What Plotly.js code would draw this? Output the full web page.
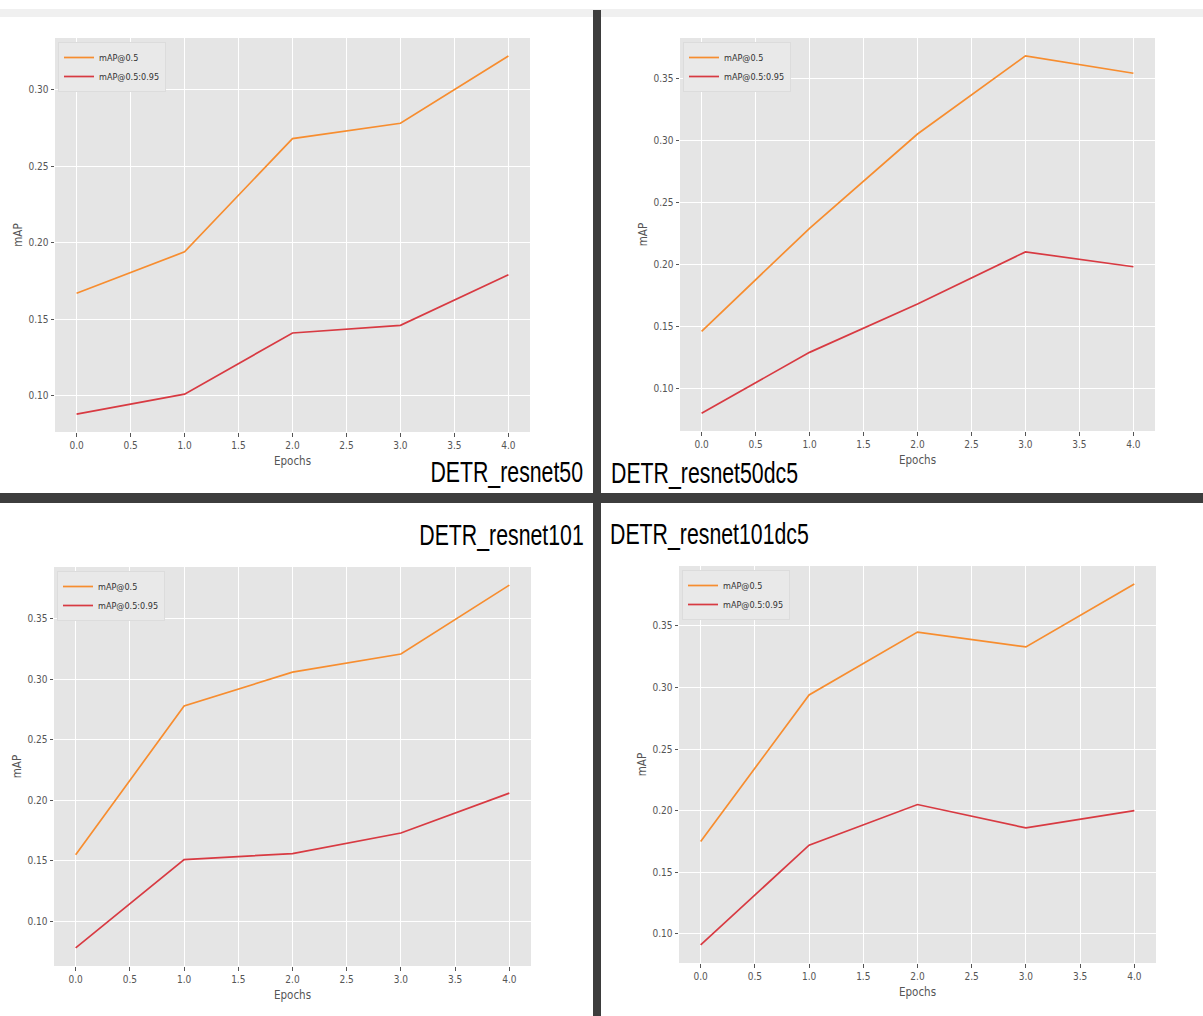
<!DOCTYPE html>
<html>
<head>
<meta charset="utf-8">
<script src="https://cdn.plot.ly/plotly-3.0.1.min.js"></script>
<style>
  html, body { margin: 0; padding: 0; background: #ffffff; }
  #chart { width: 1203px; height: 1016px; }
</style>
</head>
<body>
<div id="chart"></div>
<script>
// ---- data ----
const epochs = [0, 1, 2, 3, 4];
const seriesNames = ["mAP@0.5", "mAP@0.5:0.95"];
const panelTitles = ["DETR_resnet50", "DETR_resnet50dc5", "DETR_resnet101", "DETR_resnet101dc5"];

const resnet50_map50      = [0.167, 0.194, 0.268, 0.278, 0.322];
const resnet50_map5095    = [0.088, 0.101, 0.141, 0.146, 0.179];
const resnet50dc5_map50   = [0.146, 0.229, 0.305, 0.368, 0.354];
const resnet50dc5_map5095 = [0.080, 0.129, 0.168, 0.210, 0.198];
const resnet101_map50     = [0.155, 0.278, 0.306, 0.321, 0.378];
const resnet101_map5095   = [0.078, 0.151, 0.156, 0.173, 0.206];
const resnet101dc5_map50  = [0.175, 0.294, 0.345, 0.333, 0.384];
const resnet101dc5_map5095= [0.091, 0.172, 0.205, 0.186, 0.200];

const xTickVals = [0, 0.5, 1, 1.5, 2, 2.5, 3, 3.5, 4];

// ---- layout helpers ----
const W = 1203, H = 1016;
const px = v => v / W;
const py = v => 1 - v / H;

const ORANGE = "#f78d2f";
const RED = "#d83a42";
const TICKC = "#555555";
const SMALLFONT = "DejaVu Sans Condensed, DejaVu Sans, sans-serif";
const BIGFONT = "Liberation Sans, Arial, sans-serif";

const panels = [
  { o: resnet50_map50,     r: resnet50_map5095,     box: [55, 530, 38, 432] },
  { o: resnet50dc5_map50,  r: resnet50dc5_map5095,  box: [680, 1155, 38, 431] },
  { o: resnet101_map50,    r: resnet101_map5095,    box: [54, 531, 567, 966] },
  { o: resnet101dc5_map50, r: resnet101dc5_map5095, box: [679, 1156, 566, 963] }
];

const data = [];
const layout = {
  width: W, height: H,
  autosize: false,
  margin: { l: 0, r: 0, t: 0, b: 0, pad: 0 },
  paper_bgcolor: "#ffffff",
  plot_bgcolor: "#e5e5e5",
  showlegend: true,
  shapes: [],
  annotations: []
};

panels.forEach((p, i) => {
  const n = i + 1;
  const xa = n === 1 ? "x" : "x" + n;
  const ya = n === 1 ? "y" : "y" + n;
  const lg = n === 1 ? "legend" : "legend" + n;
  data.push({
    x: epochs, y: p.o, type: "scatter", mode: "lines", name: seriesNames[0],
    line: { color: ORANGE, width: 1.7 }, xaxis: xa, yaxis: ya, legend: lg
  });
  data.push({
    x: epochs, y: p.r, type: "scatter", mode: "lines", name: seriesNames[1],
    line: { color: RED, width: 1.7 }, xaxis: xa, yaxis: ya, legend: lg
  });

  // matplotlib-style 5% margins
  const all = p.o.concat(p.r);
  const lo = Math.min(...all), hi = Math.max(...all);
  const m = (hi - lo) * 0.05;

  const [l, r, t, b] = p.box;
  const axCommon = {
    showgrid: true, gridcolor: "#ffffff", gridwidth: 1,
    zeroline: false, showline: false,
    ticks: "outside", ticklen: 3.5, tickwidth: 1, tickcolor: TICKC,
    tickfont: { family: SMALLFONT, size: 10, color: TICKC },
    automargin: false, fixedrange: true
  };
  layout["xaxis" + (n === 1 ? "" : n)] = Object.assign({}, axCommon, {
    domain: [px(l), px(r)],
    anchor: ya,
    range: [-0.2, 4.2],
    tickvals: xTickVals,
    tickformat: ".1f",
    title: { text: "Epochs", font: { family: SMALLFONT, size: 11.5, color: TICKC }, standoff: 7 }
  });
  layout["yaxis" + (n === 1 ? "" : n)] = Object.assign({}, axCommon, {
    domain: [py(b), py(t)],
    anchor: xa,
    range: [lo - m, hi + m],
    dtick: 0.05,
    tick0: 0,
    tickformat: ".2f",
    title: { text: "mAP", font: { family: SMALLFONT, size: 11.5, color: TICKC }, standoff: 3 }
  });
  layout[lg] = {
    x: px(l + 3), y: py(t + 4), xanchor: "left", yanchor: "top",
    xref: "paper", yref: "paper",
    bgcolor: "#e9e9e9", bordercolor: "#dcdcdc", borderwidth: 1,
    font: { family: SMALLFONT, size: 9, color: "#333333" },
    tracegroupgap: 0, itemwidth: 30
  };
});

// panel labels
const labelDefs = [
  { text: panelTitles[0], x: 585, y: 471, anchor: "right" },
  { text: panelTitles[1], x: 609, y: 472, anchor: "left" },
  { text: panelTitles[2], x: 586, y: 534, anchor: "right" },
  { text: panelTitles[3], x: 608, y: 533, anchor: "left" }
];
labelDefs.forEach(d => {
  layout.annotations.push({
    text: d.text, xref: "paper", yref: "paper",
    x: px(d.x), y: py(d.y), xanchor: d.anchor, yanchor: "middle",
    showarrow: false,
    font: { family: BIGFONT, size: 30, color: "#000000" }
  });
});

// frame decorations: top faint band and dark dividers
layout.shapes.push({
  type: "rect", xref: "paper", yref: "paper",
  x0: 0, x1: 1, y0: py(17), y1: py(9),
  fillcolor: "#f0f0f0", line: { width: 0 }, layer: "below"
});
layout.shapes.push({
  type: "rect", xref: "paper", yref: "paper",
  x0: px(593), x1: px(601), y0: 0, y1: py(10),
  fillcolor: "#3d3d3d", line: { width: 0 }, layer: "above"
});
layout.shapes.push({
  type: "rect", xref: "paper", yref: "paper",
  x0: 0, x1: 1, y0: py(503), y1: py(493),
  fillcolor: "#3d3d3d", line: { width: 0 }, layer: "above"
});

Plotly.newPlot("chart", data, layout, { staticPlot: true, displayModeBar: false }).then(gd => {
  // condense the large panel labels horizontally (narrow typeface look)
  const SX = 0.71;
  const texts = gd.querySelectorAll(".annotation .annotation-text");
  texts.forEach((t, i) => {
    const d = labelDefs[i];
    if (!d) return;
    const bb = t.getBBox();
    const ax = d.anchor === "right" ? bb.x + bb.width : bb.x;
    t.setAttribute("transform", `translate(${ax},0) scale(${SX},1) translate(${-ax},0)`);
  });
});
</script>
</body>
</html>
